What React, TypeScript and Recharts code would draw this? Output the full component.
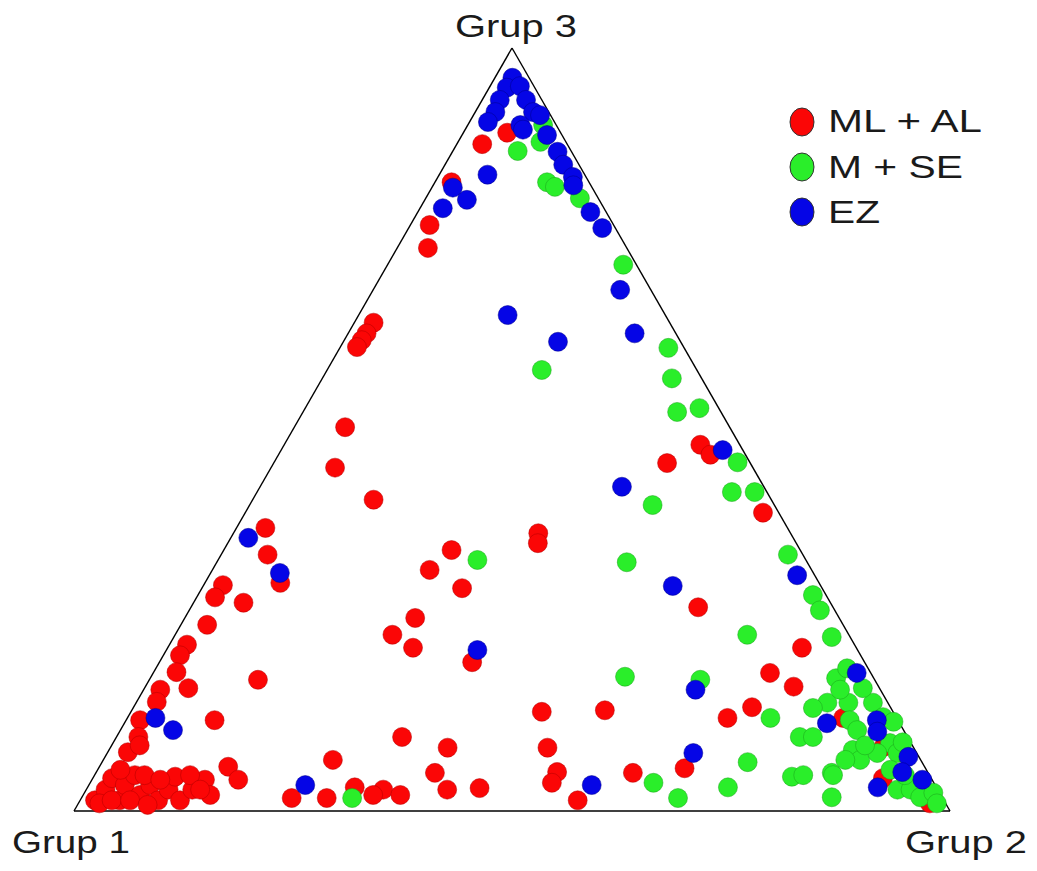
import { ScatterChart, Scatter, XAxis, YAxis, ReferenceLine, Customized } from "recharts";

// Composition of each sample: [share of Grup 2 (%), share of Grup 3 (%)]; Grup 1 is the remainder.
const mlAl: [number, number][] = [
  [2.9, 87.4], [5.0, 88.9], [2.2, 76.8], [3.5, 73.8], [1.9, 82.4], [2.2, 64.0], [2.1, 62.6], [2.0, 61.7],
  [1.9, 60.8], [5.8, 50.3], [7.3, 45.0], [13.8, 40.8], [3.3, 37.1], [5.3, 33.6], [26.0, 34.2], [47.5, 48.0],
  [49.3, 46.7], [44.9, 45.6], [59.1, 39.1], [34.8, 36.4], [35.4, 35.1], [8.6, 29.9], [2.2, 29.6], [2.1, 28.0],
  [5.7, 27.3], [3.0, 24.4], [2.0, 21.8], [1.9, 20.4], [2.6, 18.2], [5.0, 16.1], [1.9, 15.9], [2.3, 14.3],
  [12.4, 17.2], [1.6, 11.9], [2.5, 9.7], [2.3, 7.7], [10.1, 11.9], [14.7, 5.8], [16.7, 4.1], [26.2, 6.7],
  [24.0, 1.7], [28.0, 1.7], [30.5, 3.1], [24.8, 31.6], [29.7, 29.2], [26.3, 25.3], [24.8, 23.1], [28.0, 21.4],
  [35.7, 19.5], [46.9, 13.0], [54.0, 13.2], [32.6, 9.7], [38.5, 8.3], [49.9, 8.3], [38.7, 5.0], [52.6, 5.1],
  [52.7, 3.7], [41.2, 2.8], [44.8, 3.0], [33.9, 2.8], [36.2, 2.1], [33.1, 2.1], [61.3, 5.0], [56.8, 1.4],
  [57.9, 26.7], [72.4, 21.4], [70.4, 18.1], [74.0, 16.3], [70.6, 13.6], [68.5, 12.2], [66.9, 5.6], [90.2, 4.3],
  [97.2, 1.0], [81.7, 12.2], [88.2, 8.4],
  [1.7, 1.4], [2.2, 2.8], [2.2, 4.3], [4.5, 1.4], [4.1, 3.4], [4.6, 4.7], [6.5, 2.1], [7.0, 3.4],
  [8.9, 1.4], [9.4, 2.8], [9.3, 4.5], [11.4, 1.4], [12.1, 2.8], [12.9, 4.1], [14.5, 2.1], [2.4, 1.0],
  [3.2, 8.6], [3.6, 1.4], [5.7, 4.7], [7.8, 4.1], [10.9, 4.7], [5.7, 1.4], [8.0, 0.8], [13.0, 2.8],
  [2.6, 5.4],
];

const mSe: [number, number][] = [
  [7.4, 86.5], [12.8, 82.4], [14.0, 81.8], [17.6, 80.3], [26.9, 71.6], [9.4, 87.7], [24.5, 57.8], [37.5, 60.7],
  [39.9, 56.7], [42.7, 52.3], [45.0, 52.8], [52.9, 45.7], [54.2, 41.8], [56.8, 41.8], [46.0, 40.1], [64.7, 33.6],
  [46.8, 32.6], [29.6, 32.9], [30.9, 1.7], [54.1, 17.6], [64.3, 3.7], [70.2, 28.3], [72.0, 26.3], [65.3, 23.1],
  [75.1, 22.8], [62.9, 17.2], [78.3, 17.4], [78.9, 18.7], [73.4, 12.2], [78.0, 9.7], [79.5, 9.7], [73.7, 6.4],
  [79.7, 4.5], [80.9, 4.7], [84.0, 5.0], [73.1, 3.1], [68.1, 1.7], [85.6, 1.8], [78.9, 14.2], [77.6, 13.5],
  [81.3, 14.2], [82.6, 11.9], [84.1, 10.6], [84.9, 8.0], [86.4, 6.7], [84.1, 14.2], [86.2, 12.3], [88.7, 8.9],
  [90.2, 7.6], [87.9, 7.6], [84.3, 4.7], [92.6, 2.8], [94.1, 2.8], [95.7, 1.8], [96.9, 2.4], [98.0, 1.0],
  [82.0, 16.1], [8.6, 89.9], [87.7, 11.7], [90.1, 9.0], [79.5, 15.9], [86.0, 8.6], [92.5, 4.7], [90.5, 5.4],
  [84.7, 6.7],
];

const ez: [number, number][] = [
  [2.0, 96.1], [2.0, 94.8], [3.4, 95.0], [2.0, 93.2], [5.0, 93.2], [2.3, 91.6], [6.6, 91.6], [2.1, 90.3],
  [6.0, 89.9], [7.6, 91.2], [6.6, 89.3], [5.5, 83.4], [2.4, 81.7], [4.8, 80.1], [2.6, 79.0], [9.7, 88.6],
  [12.0, 86.4], [13.5, 84.7], [15.4, 83.1], [16.0, 82.0], [19.7, 78.5], [22.1, 76.4], [28.2, 68.3], [17.0, 65.0],
  [24.5, 61.5], [32.7, 62.6], [50.4, 47.3], [41.3, 42.5], [2.0, 35.8], [7.9, 31.2], [3.2, 12.2], [6.0, 10.6],
  [24.7, 3.4], [35.5, 21.1], [57.4, 3.4], [53.6, 29.5], [67.1, 30.9], [80.3, 18.1], [63.0, 15.9], [80.2, 11.5],
  [85.7, 11.9], [86.5, 10.4], [66.9, 7.6], [91.7, 7.1], [92.0, 5.1], [94.8, 4.1], [90.2, 3.1],
];

const vertexLabels = ["Grup 1", "Grup 2", "Grup 3"];

const series = [
  { name: "ML + AL", points: mlAl, fill: "#fb0606", edge: "#b00000" },
  { name: "M + SE", points: mSe, fill: "#2aee2a", edge: "#1aa01a" },
  { name: "EZ", points: ez, fill: "#0505e6", edge: "#00008a" },
];

const FONT = '"Liberation Sans", Arial, sans-serif';

// ternary -> cartesian: Grup 1 at (0,0), Grup 2 at (100,0), Grup 3 at (50,100)
const toXY = ([g2, g3]: [number, number]) => ({ x: g2 + g3 / 2, y: g3 });

const Dot = (props: any) => {
  const { cx, cy, fill, stroke } = props;
  return <circle cx={cx} cy={cy} r={9.5} fill={fill} stroke={stroke} strokeWidth={0.5} />;
};

const VertexLabels = () => (
  <g fontFamily={FONT} fontSize={31} fill="#1a1a1a">
    <text x={12} y={853} textLength={118} lengthAdjust="spacingAndGlyphs">{vertexLabels[0]}</text>
    <text x={905} y={853} textLength={122} lengthAdjust="spacingAndGlyphs">{vertexLabels[1]}</text>
    <text x={455} y={37} textLength={122} lengthAdjust="spacingAndGlyphs">{vertexLabels[2]}</text>
  </g>
);

const legendWidths = [154, 135, 52];

// key box in the upper right corner
const SeriesKey = () => (
  <g transform="translate(770, 95)" fontFamily={FONT} fontSize={31} fill="#1a1a1a">
    {series.map((s, i) => (
      <g key={s.name}>
        <ellipse cx={32} cy={27 + i * 45} rx={12} ry={14} fill={s.fill} stroke="#333" strokeWidth={1} />
        <text x={58} y={37 + i * 45.5} textLength={legendWidths[i]} lengthAdjust="spacingAndGlyphs">
          {s.name}
        </text>
      </g>
    ))}
  </g>
);

export default function App() {
  return (
    <div style={{ position: "absolute", left: 0, top: 0, background: "#fff" }}>
      <ScatterChart width={1037} height={871} margin={{ left: 74, right: 87, top: 48, bottom: 60 }}>
        <XAxis type="number" dataKey="x" domain={[0, 100]} hide />
        <YAxis type="number" dataKey="y" domain={[0, 100]} hide />
        <ReferenceLine segment={[{ x: 0, y: 0 }, { x: 100, y: 0 }]} stroke="#000" strokeWidth={1.6} />
        <ReferenceLine segment={[{ x: 0, y: 0 }, { x: 50, y: 100 }]} stroke="#000" strokeWidth={1.4} />
        <ReferenceLine segment={[{ x: 100, y: 0 }, { x: 50, y: 100 }]} stroke="#000" strokeWidth={1.4} />
        {series.map((s) => (
          <Scatter
            key={s.name}
            name={s.name}
            data={s.points.map(toXY)}
            fill={s.fill}
            stroke={s.edge}
            shape={<Dot />}
            isAnimationActive={false}
          />
        ))}
        <Customized component={<SeriesKey />} />
        <Customized component={<VertexLabels />} />
      </ScatterChart>
    </div>
  );
}
